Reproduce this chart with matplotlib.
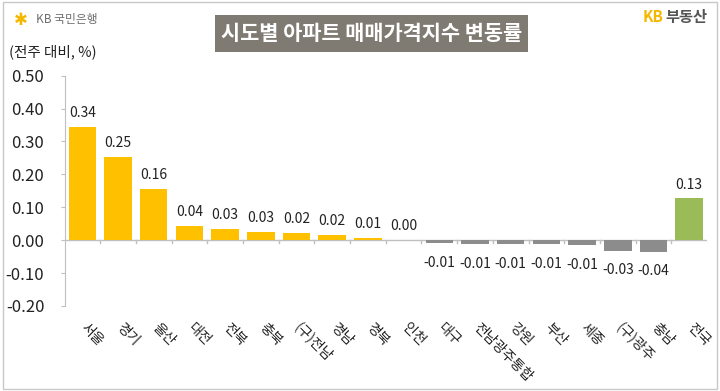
import numpy as np
import matplotlib.pyplot as plt
from matplotlib.patches import Rectangle

plt.rcParams['font.family'] = ['Noto Sans CJK KR', 'DejaVu Sans']

regions = ['서울', '경기', '울산', '대전', '전북', '충북', '(구)전남', '경남', '경북', '인천',
           '대구', '전남광주통합', '강원', '부산', '세종', '(구)광주', '충남', '전국']
changes = [0.343, 0.254, 0.157, 0.042, 0.033, 0.026, 0.021, 0.016, 0.006, 0.000,
           -0.009, -0.012, -0.012, -0.012, -0.015, -0.033, -0.036, 0.127]
yticks = [-0.2, -0.1, 0.0, 0.1, 0.2, 0.3, 0.4, 0.5]

yellow = '#FFC000'
grey = '#8C8C8C'
green = '#9BBB59'
colors = []
for name, v in zip(regions, changes):
    if name == '전국':
        colors.append(green)
    elif v < 0:
        colors.append(grey)
    else:
        colors.append(yellow)

fig = plt.figure(figsize=(7.2, 3.91), dpi=100)
ax = fig.add_axes([0.0896, 0.2174, 0.8924, 0.589])

x = np.arange(len(regions))
ax.bar(x, changes, width=0.77, color=colors, zorder=2)

for xi, v in zip(x, changes):
    label = '%.2f' % v
    if label == '-0.00':
        label = '0.00'
    if v >= 0:
        ax.annotate(label, (xi, v), xytext=(0, 10), textcoords='offset points',
                    ha='center', va='center', fontsize=10, color='#222222')
    else:
        ax.annotate(label, (xi, v), xytext=(0, -14), textcoords='offset points',
                    ha='center', va='center', fontsize=10, color='#222222')

ax.set_xlim(-0.5, len(regions) - 0.5)
ax.set_ylim(-0.2, 0.5)
ax.set_yticks(yticks)
ax.set_yticklabels(['%.2f' % t for t in yticks], fontsize=12, color='#222222')
ax.tick_params(axis='y', length=3, pad=11.5, color='#BFBFBF')

# zero line with category boundary ticks
ax.axhline(0, color='#BFBFBF', lw=1, zorder=1)
for b in np.arange(0.5, len(regions) - 0.5, 1.0):
    ax.plot([b, b], [0, -0.008], color='#BFBFBF', lw=1, zorder=1)
ax.set_xticks([])
for xi, name in zip(x, regions):
    ax.text(xi + 0.02, -0.258, name, rotation=-45, rotation_mode='anchor',
            ha='left', va='center', fontsize=10, color='#222222')

for s in ['top', 'right', 'bottom']:
    ax.spines[s].set_visible(False)
ax.spines['left'].set_color('#BFBFBF')

# header
fig.text(0.012, 1 - 52 / 391, '(전주 대비, %)', fontsize=10.5, color='#222222', va='center')
fig.patches.append(Rectangle((215 / 720, 1 - 52 / 391), 313 / 720, 37 / 391,
                             transform=fig.transFigure, facecolor='#7F7A72',
                             edgecolor='none'))
fig.text(372 / 720, 1 - 33.5 / 391, '시도별 아파트 매매가격지수 변동률', fontsize=15,
         fontweight='bold', color='white', ha='center', va='center')
fig.text(21 / 720, 1 - 20 / 391, '✱', fontsize=12, color='#F5B800',
         ha='center', va='center', family=['DejaVu Sans'])
fig.text(36 / 720, 1 - 20 / 391, 'KB 국민은행', fontsize=8.5, color='#6E6E6E',
         va='center')
fig.text(643 / 720, 1 - 17 / 391, 'KB', fontsize=11, color='#F5B800',
         fontweight='bold', va='center')
fig.text(665 / 720, 1 - 17 / 391, '부동산', fontsize=11, color='#555555',
         fontweight='bold', va='center')

fig.patches.append(Rectangle((0.004, 0.006), 0.992, 0.99, transform=fig.transFigure,
                             facecolor='none', edgecolor='#C8C8C8', lw=1))

plt.savefig('out.png', dpi=100)
